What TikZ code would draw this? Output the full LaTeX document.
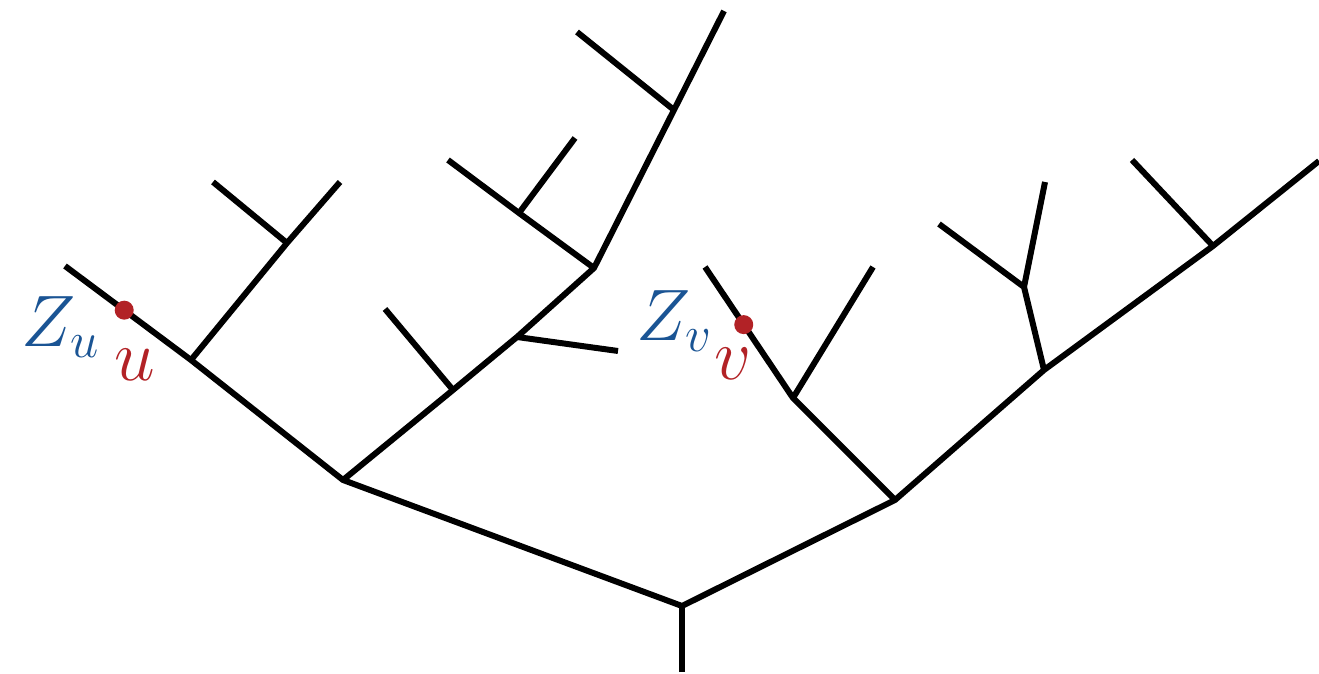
\documentclass[tikz,border=0pt]{standalone}
\usepackage{amsmath,amssymb}
\usepackage{xcolor}
\definecolor{zblue}{RGB}{26, 84, 148}
\definecolor{ptred}{RGB}{178, 34, 38}
\usepackage{tikz}
\usetikzlibrary{calc}

\begin{document}
\begin{tikzpicture}[
  x=0.01cm, y=-0.01cm,
  branch/.style={draw=black, line width=1.7pt, line join=miter},
  dot/.style={circle, fill=ptred, inner sep=0pt, minimum size=0.19cm},
  zlabel/.style={anchor=base, inner sep=0pt, text=zblue, font=\fontsize{20}{24}\selectfont},
  plabel/.style={anchor=base, inner sep=0pt, text=ptred, font=\fontsize{20}{24}\selectfont}
]
\useasboundingbox (0,0) rectangle (1319,674);

\coordinate (root) at (682,672);
\coordinate (a) at (682,606);
\coordinate (b) at (343,480);
\coordinate (c) at (895,500);
\coordinate (d) at (191,360);
\coordinate (d1) at (65,266);
\coordinate (e) at (287,243);
\coordinate (e1) at (213,182);
\coordinate (e2) at (340,182);
\coordinate (f) at (453,390);
\coordinate (f1) at (385,309);
\coordinate (g) at (517,337);
\coordinate (g1) at (618,351);
\coordinate (h) at (594,268);
\coordinate (i) at (519,213);
\coordinate (i1) at (448,160);
\coordinate (i2) at (575,138);
\coordinate (j) at (674,110);
\coordinate (j1) at (577,32);
\coordinate (j2) at (724,11);
\coordinate (k) at (793,398);
\coordinate (k1) at (705,267);
\coordinate (k2) at (873,267);
\coordinate (l) at (1044,370);
\coordinate (m) at (1024,287);
\coordinate (m1) at (939,224);
\coordinate (m2) at (1045,182);
\coordinate (n) at (1213,246);
\coordinate (n1) at (1132,160);
\coordinate (n2) at (1319,161);

\draw[branch] (d1) -- (d) -- (b) -- (a) -- (c) -- (l) -- (n) -- (n2);
\draw[branch] (root) -- (a);
\draw[branch] (d) -- (e) -- (e2);
\draw[branch] (e) -- (e1);
\draw[branch] (b) -- (f) -- (g) -- (h) -- (j) -- (j2);
\draw[branch] (f) -- (f1);
\draw[branch] (g) -- (g1);
\draw[branch] (h) -- (i) -- (i1);
\draw[branch] (i) -- (i2);
\draw[branch] (j) -- (j1);
\draw[branch] (k1) -- (k) -- (c);
\draw[branch] (k) -- (k2);
\draw[branch] (l) -- (m) -- (m1);
\draw[branch] (m) -- (m2);
\draw[branch] (n) -- (n1);

\node[dot] (u) at ($(d1)!0.47!(d)$) {};
\node[dot] (v) at ($(k1)!0.44!(k)$) {};

\node[zlabel] (zu) at (61,347) {$Z_u$};
\node[plabel] (ulab) at (135,381) {$u$};
\node[zlabel] (zv) at (675,341) {$Z_v$};
\node[plabel] (vlab) at (733,380) {$v$};
\end{tikzpicture}
\end{document}
